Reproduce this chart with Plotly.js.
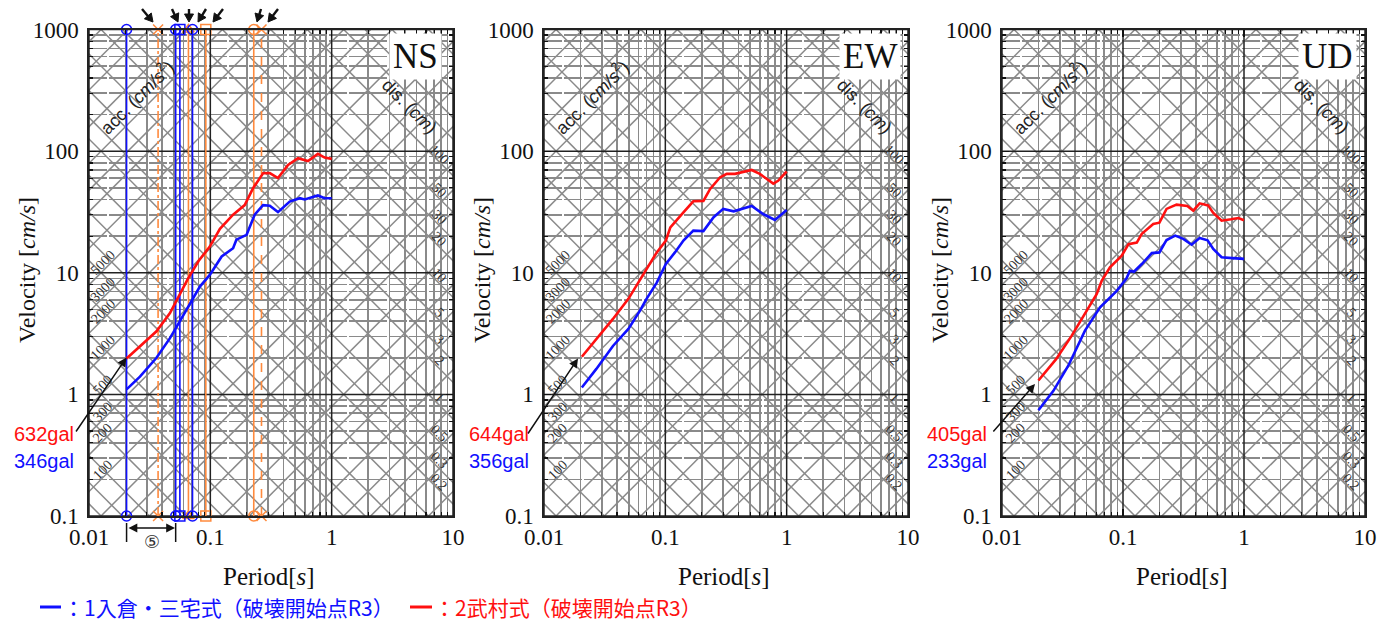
<!DOCTYPE html>
<html><head><meta charset="utf-8">
<script src="https://cdn.plot.ly/plotly-3.0.1.min.js"></script>
<style>html,body{margin:0;padding:0;background:#fff;} #chart{width:1377px;height:625px;}</style>
</head><body><div id="chart"></div>
<script>
// ---------------- data ----------------
const panelNames = ['NS', 'EW', 'UD'];

const nsBlueT = [0.0204, 0.0263, 0.036, 0.0465, 0.056, 0.071, 0.082, 0.099, 0.124, 0.154, 0.164, 0.199, 0.232, 0.272, 0.309, 0.361, 0.451, 0.546, 0.6, 0.77, 0.875, 1.0];
const nsBlueV = [1.1, 1.4, 2.0, 2.9, 3.98, 5.9, 7.7, 9.6, 13.6, 15.9, 18.7, 20.5, 30, 36, 35.5, 31.5, 38.5, 41, 40, 43.2, 41, 41];
const nsRedT = [0.0204, 0.0263, 0.036, 0.0465, 0.056, 0.0656, 0.08, 0.099, 0.12, 0.154, 0.192, 0.225, 0.272, 0.309, 0.361, 0.437, 0.528, 0.638, 0.77, 0.875, 1.0];
const nsRedV = [1.97, 2.48, 3.3, 4.66, 6.6, 9.0, 12.5, 16.4, 23, 30, 36, 49.6, 65.8, 66, 60, 77, 87.5, 83, 95, 88.6, 86.4];

const ewBlueT = [0.0205, 0.027, 0.037, 0.0496, 0.062, 0.07, 0.085, 0.101, 0.12, 0.141, 0.17, 0.206, 0.25, 0.3, 0.366, 0.515, 0.64, 0.8, 1.0];
const ewBlueV = [1.14, 1.62, 2.5, 3.45, 4.9, 6.1, 8.3, 11.8, 14.7, 18.4, 22.2, 22, 28.6, 33.5, 32, 35.4, 30.4, 27.2, 32.8];
const ewRedT = [0.0205, 0.027, 0.037, 0.0496, 0.0655, 0.085, 0.101, 0.11, 0.141, 0.17, 0.206, 0.234, 0.283, 0.321, 0.375, 0.515, 0.6, 0.776, 0.85, 1.0];
const ewRedV = [2.04, 2.85, 4.17, 6.1, 9.5, 14.7, 18.4, 23.6, 31.4, 38.7, 39, 48.9, 61, 65, 65, 70, 65, 54, 57, 68];

const udBlueT = [0.02, 0.0266, 0.0353, 0.0485, 0.0646, 0.083, 0.0888, 0.107, 0.114, 0.123, 0.143, 0.173, 0.2, 0.229, 0.27, 0.315, 0.369, 0.43, 0.5, 0.557, 0.653, 0.8, 1.0];
const udBlueV = [0.74, 1.07, 1.72, 3.34, 5.2, 6.6, 7.1, 9.0, 10.4, 10.2, 11.8, 14.5, 14.7, 18.6, 20.2, 19, 17, 19.3, 18.5, 15.7, 13.4, 13.2, 13.0];
const udRedT = [0.02, 0.028, 0.0377, 0.057, 0.0607, 0.0667, 0.078, 0.0976, 0.111, 0.13, 0.143, 0.178, 0.2, 0.229, 0.277, 0.34, 0.381, 0.43, 0.505, 0.555, 0.653, 0.78, 0.9, 1.0];
const udRedV = [1.3, 1.95, 3.04, 5.9, 6.7, 8.6, 11.1, 13.8, 17.2, 17.7, 20.9, 25.2, 25.8, 33.5, 36.3, 35.4, 32.4, 37.2, 35.8, 31.2, 26.8, 27.5, 28.2, 27];

const galRed = ['632gal', '644gal', '405gal'];
const galBlue = ['346gal', '356gal', '233gal'];

const xTickVals = [0.01, 0.1, 1, 10];
const xTickText = ['0.01', '0.1', '1', '10'];
const yTickVals = [0.1, 1, 10, 100, 1000];
const yTickText = ['0.1', '1', '10', '100', '1000'];

const accLabels = [100, 200, 300, 500, 1000, 2000, 3000, 5000];
const disLabels = [100, 50, 30, 20, 10, 5, 3, 2, 1, 0.5, 0.3, 0.2];
const diagMantissas = [1, 2, 3, 5];

// NS marker periods (vertical lines)
const markBlueT = [0.0204, 0.0518, 0.0561, 0.0713];
const markOrangeT = [0.0371, 0.066, 0.0918, 0.228, 0.264];

const legendBlue = '：1入倉・三宅式（破壊開始点R3）';
const legendRed = '：2武村式（破壊開始点R3）';

// ---------------- styles / layout helpers ----------------
const W = 1377, H = 625;
const panelLeft = [89, 544, 1002];
const panelRight = [453, 908, 1365];
const plotTop = 29.5, plotBottom = 516;
const px = v => v / W;
const py = v => 1 - v / H;
const BLUE = '#1010ff', RED = '#ff1010', ORANGE = '#ff8a3d';
const GRID = '#8a8a8a';
const serif = 'Liberation Serif';
const sans = 'Liberation Sans';

const blueSym = ['circle-open', 'circle-open', 'square-open', 'circle-open'];
const orangeSym = ['x-thin-open', 'triangle-up-open', 'square-open', 'circle-open', 'x-thin-open'];
const orangeDash = ['dashdot', 'solid', 'solid', 'solid', 'dash'];

function range(a, b) { const r = []; for (let k = a; k <= b; k++) r.push(k); return r; }
function levels(kmin, kmax) { const r = []; range(kmin, kmax).forEach(k => { diagMantissas.forEach(m => r.push(m * Math.pow(10, k))); }); return r; }
function minorVals(kmin, kmax) { const r = []; range(kmin, kmax).forEach(k => { for (let m = 2; m <= 9; m++) r.push(m * Math.pow(10, k)); }); return r; }

const accLevels = levels(-2, 6);
const disLevels = levels(-5, 4);
const TWO_PI = 2 * Math.PI;

const curves = [[nsBlueT, nsBlueV, nsRedT, nsRedV], [ewBlueT, ewBlueV, ewRedT, ewRedV], [udBlueT, udBlueV, udRedT, udRedV]];

const traces = [];
const layout = {
  width: W, height: H, margin: {l: 0, r: 0, t: 0, b: 0},
  paper_bgcolor: '#fff', plot_bgcolor: '#fff', showlegend: false,
  annotations: [], shapes: []
};

panelNames.forEach((name, i) => {
  const sfx = i === 0 ? '' : String(i + 1);
  const xa = 'x' + sfx, ya = 'y' + sfx;
  const L = panelLeft[i], R = panelRight[i];

  layout['xaxis' + sfx] = {
    type: 'log', range: [-2, 1], domain: [px(L), px(R)], anchor: ya,
    tickmode: 'array', tickvals: xTickVals, ticktext: xTickText,
    tickfont: {family: serif, size: 23, color: '#111'},
    ticks: 'inside', ticklen: 7, tickwidth: 1.2, tickcolor: '#111',
    showline: true, linecolor: '#222', linewidth: 1.6, mirror: 'allticks',
    showgrid: false, zeroline: false, ticklabelstandoff: 0,
    minor: {tickmode: 'array', tickvals: minorVals(-2, 0), ticks: 'inside', ticklen: 4, tickcolor: '#111',
            showgrid: true, gridcolor: GRID, gridwidth: 1.6}
  };
  layout['yaxis' + sfx] = {
    type: 'log', range: [-1, 3], domain: [py(plotBottom), py(plotTop)], anchor: xa,
    tickmode: 'array', tickvals: yTickVals, ticktext: yTickText,
    tickfont: {family: serif, size: 23, color: '#111'},
    ticks: 'inside', ticklen: 7, tickwidth: 1.2, tickcolor: '#111',
    showline: true, linecolor: '#222', linewidth: 1.6, mirror: 'allticks',
    showgrid: false, zeroline: false, ticklabelstandoff: 4,
    minor: {tickmode: 'array', tickvals: minorVals(-1, 2), ticks: 'inside', ticklen: 4, tickcolor: '#111',
            showgrid: true, gridcolor: GRID, gridwidth: 1.6, griddash: '18px,2px'}
  };

  // diagonal acceleration lines (V = A T / 2pi)
  const T0 = 0.001, T1 = 100;
  let dx = [], dy = [];
  accLevels.forEach(A => { dx.push(T0, T1, null); dy.push(A * T0 / TWO_PI, A * T1 / TWO_PI, null); });
  traces.push({x: dx, y: dy, xaxis: xa, yaxis: ya, mode: 'lines', line: {color: GRID, width: 1.5}, hoverinfo: 'skip'});
  // diagonal displacement lines (V = 2pi D / T)
  dx = []; dy = [];
  disLevels.forEach(D => { dx.push(T0, T1, null); dy.push(TWO_PI * D / T0, TWO_PI * D / T1, null); });
  traces.push({x: dx, y: dy, xaxis: xa, yaxis: ya, mode: 'lines', line: {color: GRID, width: 1.5}, hoverinfo: 'skip'});

  // decade (major) grid lines in black on top of diagonals
  dx = []; dy = [];
  yTickVals.forEach(v => { dx.push(xTickVals[0], xTickVals[xTickVals.length - 1], null); dy.push(v, v, null); });
  xTickVals.forEach(t => { dx.push(t, t, null); dy.push(yTickVals[0], yTickVals[yTickVals.length - 1], null); });
  traces.push({x: dx, y: dy, xaxis: xa, yaxis: ya, mode: 'lines', line: {color: '#222', width: 1.5}, hoverinfo: 'skip'});

  // NS marker lines
  if (i === 0) {
    markOrangeT.forEach((t, j) => {
      traces.push({x: [t, t], y: [yTickVals[0], yTickVals[yTickVals.length - 1]], xaxis: xa, yaxis: ya,
        mode: 'lines+markers', cliponaxis: false,
        line: {color: ORANGE, width: 1.6, dash: orangeDash[j]},
        marker: {symbol: orangeSym[j], size: 10, color: ORANGE, line: {color: ORANGE, width: 1.5}}, hoverinfo: 'skip'});
    });
    markBlueT.forEach((t, j) => {
      traces.push({x: [t, t], y: [yTickVals[0], yTickVals[yTickVals.length - 1]], xaxis: xa, yaxis: ya,
        mode: 'lines+markers', cliponaxis: false,
        line: {color: BLUE, width: 1.6},
        marker: {symbol: blueSym[j], size: 10, color: BLUE, line: {color: BLUE, width: 1.5}}, hoverinfo: 'skip'});
    });
  }

  // spectra
  const c = curves[i];
  traces.push({x: c[0], y: c[1], xaxis: xa, yaxis: ya, mode: 'lines', line: {color: BLUE, width: 2.6}, hoverinfo: 'skip'});
  traces.push({x: c[2], y: c[3], xaxis: xa, yaxis: ya, mode: 'lines', line: {color: RED, width: 2.6}, hoverinfo: 'skip'});

  const A = layout.annotations;
  A.push({xref: 'paper', yref: 'paper', x: px(R - 38), y: py(57), text: name, showarrow: false,
    font: {family: serif, size: 35, color: '#111'}, bgcolor: '#fff', borderpad: 3});
  A.push({xref: 'paper', yref: 'paper', x: px(L + 47), y: py(97), text: 'acc. (<i>cm/s</i><sup>2</sup>)', showarrow: false,
    textangle: -45, font: {family: sans, size: 18, color: '#222'}});
  A.push({xref: 'paper', yref: 'paper', x: px(R - 44), y: py(106), text: 'dis. (<i>cm</i>)', showarrow: false,
    textangle: 45, font: {family: sans, size: 18, color: '#222'}});
  const Ta = 0.0138;
  accLabels.forEach(a => {
    A.push({xref: xa, yref: ya, x: Math.log10(Ta), y: Math.log10(a * Ta / TWO_PI), text: String(a), showarrow: false,
      textangle: -45, xshift: -3, yshift: 5, font: {family: serif, size: 14, color: '#333'}});
  });
  const Td = 7.3;
  disLabels.forEach(d => {
    A.push({xref: xa, yref: ya, x: Math.log10(Td), y: Math.log10(TWO_PI * d / Td), text: String(d), showarrow: false,
      textangle: 45, xshift: 3, yshift: 5, font: {family: serif, size: 14, color: '#333'}});
  });
  A.push({xref: 'paper', yref: 'paper', x: px(L - 62), y: py(270), text: 'Velocity [<i>cm/s</i>]', showarrow: false,
    textangle: -90, font: {family: serif, size: 24, color: '#111'}});
  A.push({xref: 'paper', yref: 'paper', x: px((L + R) / 2 - 2), y: py(576), text: 'Period[<i>s</i>]', showarrow: false,
    font: {family: serif, size: 25, color: '#111'}});
  A.push({xref: 'paper', yref: 'paper', x: px(L - 13), y: py(434), text: galRed[i], showarrow: false, xanchor: 'right',
    font: {family: sans, size: 20, color: RED}});
  A.push({xref: 'paper', yref: 'paper', x: px(L - 13), y: py(461), text: galBlue[i], showarrow: false, xanchor: 'right',
    font: {family: sans, size: 20, color: BLUE}});
});

// gal arrows (tail near the label, tip at red start)
const galArrows = [[75, 433, 126.5, 357.5], [527, 435, 578, 358.5], [992, 433, 1035, 384]];
galArrows.forEach(g => {
  layout.annotations.push({xref: 'paper', yref: 'paper', x: px(g[2]), y: py(g[3]), ax: g[0] - g[2], ay: g[1] - g[3],
    axref: 'pixel', ayref: 'pixel', showarrow: true, arrowhead: 2, arrowsize: 1.2, arrowwidth: 1.5, arrowcolor: '#111', text: ''});
});

// top arrows pointing at the marker lines (NS), drawn as path shapes: [tailX, tailY, tipX, tipY]
const topArrows = [[142, 9, 153, 22], [172, 9, 178, 22], [189, 9, 189, 22], [206, 9, 198, 22], [223, 9, 213, 22], [261, 9, 257, 22], [278, 9, 268, 22]];
topArrows.forEach(a => {
  const [x0, y0, x1, y1] = a;
  const dxp = x1 - x0, dyp = y1 - y0, len = Math.hypot(dxp, dyp);
  const ux = dxp / len, uy = dyp / len, hl = 8, hw = 4.5;
  const bx = x1 - ux * hl, by = y1 - uy * hl;
  const lx = bx - uy * hw, ly = by + ux * hw, rx = bx + uy * hw, ry = by - ux * hw;
  layout.shapes.push({type: 'line', xref: 'paper', yref: 'paper', x0: px(x0), y0: py(y0), x1: px(bx + ux), y1: py(by + uy),
    line: {color: '#111', width: 2.4}});
  layout.shapes.push({type: 'path', xref: 'paper', yref: 'paper',
    path: `M ${px(x1)} ${py(y1)} L ${px(lx)} ${py(ly)} L ${px(rx)} ${py(ry)} Z`,
    fillcolor: '#111', line: {color: '#111', width: 1}});
});

// bracket with circled 5 (NS)
layout.shapes.push({type: 'line', xref: 'x', yref: 'paper', x0: markBlueT[0], x1: markBlueT[0], y0: py(523), y1: py(542), line: {color: '#111', width: 1.5}});
layout.shapes.push({type: 'line', xref: 'x', yref: 'paper', x0: markBlueT[1], x1: markBlueT[1], y0: py(523), y1: py(542), line: {color: '#111', width: 1.5}});
layout.annotations.push({xref: 'paper', yref: 'paper', x: px(175), y: py(528), ax: -48, ay: 0, showarrow: true,
  arrowhead: 2, startarrowhead: 2, arrowside: 'end+start', arrowsize: 1.1, arrowwidth: 1.6, arrowcolor: '#111', text: ''});
layout.annotations.push({xref: 'paper', yref: 'paper', x: px(151.5), y: py(541), text: '⑤', showarrow: false,
  font: {family: 'DejaVu Sans', size: 18, color: '#333'}});

// legend
layout.shapes.push({type: 'line', xref: 'paper', yref: 'paper', x0: px(40), x1: px(61), y0: py(607), y1: py(607), line: {color: BLUE, width: 3}});
layout.shapes.push({type: 'line', xref: 'paper', yref: 'paper', x0: px(410), x1: px(432), y0: py(607), y1: py(607), line: {color: RED, width: 3}});
layout.annotations.push({xref: 'paper', yref: 'paper', x: px(61), y: py(607), xanchor: 'left', text: legendBlue, showarrow: false,
  font: {family: 'Noto Sans CJK JP', size: 21, color: BLUE}});
layout.annotations.push({xref: 'paper', yref: 'paper', x: px(432), y: py(607), xanchor: 'left', text: legendRed, showarrow: false,
  font: {family: 'Noto Sans CJK JP', size: 21, color: RED}});

layout.annotations.forEach(a => {
  if (!a.showarrow) {
    if (!a.xanchor) a.xanchor = 'center';
    if (!a.yanchor) a.yanchor = 'middle';
  }
});

Plotly.newPlot('chart', traces, layout, {displayModeBar: false, staticPlot: true});
</script></body></html>
